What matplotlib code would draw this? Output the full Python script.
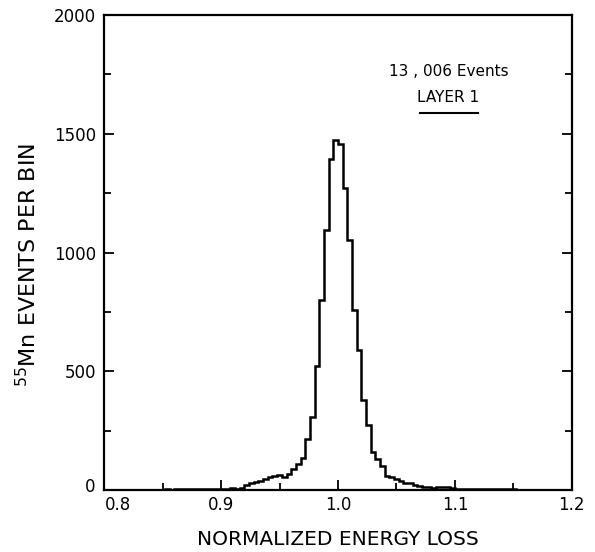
import numpy as np
import matplotlib.pyplot as plt
import matplotlib.transforms as mtransforms
from matplotlib.ticker import MultipleLocator

# 55Mn normalized energy loss histogram, bins of 0.004 from 0.8 to 1.2
bin_lo = 0.8
bin_hi = 1.2
counts = [
    0, 0, 0, 0, 0, 1, 0, 1, 1, 2,            # 0.800 - 0.836
    1, 2, 2, 3, 2, 3, 4, 3, 4, 5,            # 0.840 - 0.876
    4, 5, 6, 5, 6, 7, 6, 8, 7, 9,            # 0.880 - 0.916
    22, 30, 36, 39, 45, 55, 58, 63, 55, 70,  # 0.920 - 0.956
    91, 112, 135, 214, 309, 522, 800, 1095, 1394, 1474,  # 0.960 - 0.996
    1455, 1272, 1053, 758, 589, 379, 274, 161, 130, 100,  # 1.000 - 1.036
    60, 56, 45, 40, 32, 30, 22, 18, 15, 12,  # 1.040 - 1.076
    10, 12, 14, 12, 8, 6, 5, 5, 4, 4,        # 1.080 - 1.116
    3, 3, 4, 3, 5, 6, 4, 3, 2, 2,            # 1.120 - 1.156
    1, 1, 1, 0, 0, 0, 0, 0, 0, 0,            # 1.160 - 1.196
]
edges = np.linspace(bin_lo, bin_hi, len(counts) + 1)

plt.rcParams['font.family'] = ['DejaVu Sans']

fig = plt.figure(figsize=(5.95, 5.52), dpi=100)
ax = fig.add_axes([0.175, 0.112, 0.786, 0.861])

ax.stairs(counts, edges, color='black', linewidth=1.8, baseline=None)

ax.set_xlim(0.8, 1.2)
ax.set_ylim(0, 2000)

ax.set_xticks([0.8, 0.9, 1.0, 1.1, 1.2])
ax.set_xticklabels(['0.8', '0.9', '1.0', '1.1', '1.2'])
ax.xaxis.set_minor_locator(MultipleLocator(0.05))
ax.set_yticks([0, 500, 1000, 1500, 2000])
ax.yaxis.set_minor_locator(MultipleLocator(250))

ax.tick_params(axis='both', which='both', direction='in', labelsize=12,
               right=True, width=1.3)
ax.tick_params(axis='y', which='both', pad=6)
ax.tick_params(axis='x', which='both', pad=4)
ax.tick_params(axis='both', which='major', length=7)
ax.tick_params(axis='both', which='minor', length=5)
for sp in ax.spines.values():
    sp.set_linewidth(1.6)

# the 0.8 label sits a little right of the corner, the 0 label a little up
off_x = mtransforms.ScaledTranslation(10 / 72, 0, fig.dpi_scale_trans)
lab08 = ax.get_xticklabels()[0]
lab08.set_transform(lab08.get_transform() + off_x)
off_y = mtransforms.ScaledTranslation(0, 4 / 72, fig.dpi_scale_trans)
lab0 = ax.get_yticklabels()[0]
lab0.set_transform(lab0.get_transform() + off_y)

ax.set_xlabel('NORMALIZED ENERGY LOSS', fontsize=14.5, labelpad=12)
ax.set_ylabel('$^{55}$Mn EVENTS PER BIN', fontsize=16)
ax.yaxis.set_label_coords(-0.137, 0.474)

ax.text(0.736, 0.88, '13 , 006 Events', transform=ax.transAxes,
        ha='center', va='center', fontsize=11)
ax.text(0.736, 0.827, 'LAYER 1', transform=ax.transAxes,
        ha='center', va='center', fontsize=11)
ax.plot([0.676, 0.80], [0.794, 0.794], transform=ax.transAxes,
        color='black', linewidth=1.5)

fig.savefig('out.png', dpi=100)
